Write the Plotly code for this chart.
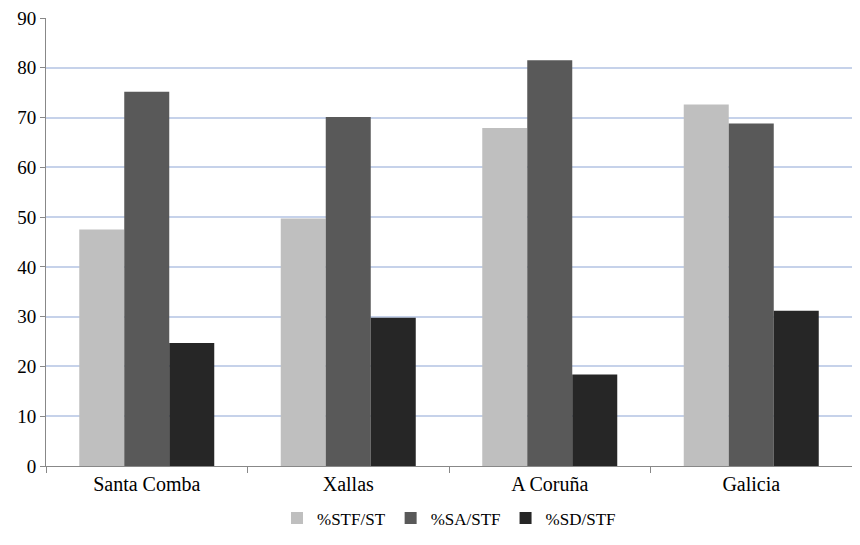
import plotly.graph_objects as go

categories = ["Santa Comba", "Xallas", "A Coruña", "Galicia"]
stf_st = [47.5, 49.7, 67.9, 72.6]
sa_stf = [75.2, 70.1, 81.5, 68.8]
sd_stf = [24.7, 29.8, 18.4, 31.2]

series = [
    ("%STF/ST", stf_st, "#bfbfbf"),
    ("%SA/STF", sa_stf, "#595959"),
    ("%SD/STF", sd_stf, "#262626"),
]

SERIF = "Liberation Serif"

fig = go.Figure()
for name, vals, col in series:
    fig.add_trace(go.Bar(x=categories, y=vals, name=name, marker=dict(color=col, line=dict(width=0))))

fig.update_layout(
    width=844, height=529,
    margin=dict(l=38, r=0, t=7, b=71),
    paper_bgcolor="white", plot_bgcolor="white",
    barmode="group", bargap=0.33, bargroupgap=0,
    font=dict(family=SERIF, size=18, color="black"),
    showlegend=True,
    legend=dict(orientation="h", x=0.5, xanchor="center", yref="container", y=0.035, yanchor="middle",
                font=dict(family=SERIF, size=17, color="black"), itemwidth=30, traceorder="normal"),
    xaxis=dict(showline=True, linecolor="#888888", linewidth=1,
               ticks="outside", tickson="boundaries", ticklen=6, tickcolor="#888888",
               showgrid=False, tickfont=dict(family=SERIF, size=20, color="black")),
    yaxis=dict(range=[0, 90], dtick=10, showline=True, linecolor="#888888", linewidth=1,
               ticks="outside", ticklen=5, tickcolor="#888888", ticklabeloverflow="allow",
               showgrid=True, gridcolor="#c6d2ea", gridwidth=1.5,
               zeroline=False, tickfont=dict(family=SERIF, size=19, color="black")),
)

fig.write_html("out.html")
